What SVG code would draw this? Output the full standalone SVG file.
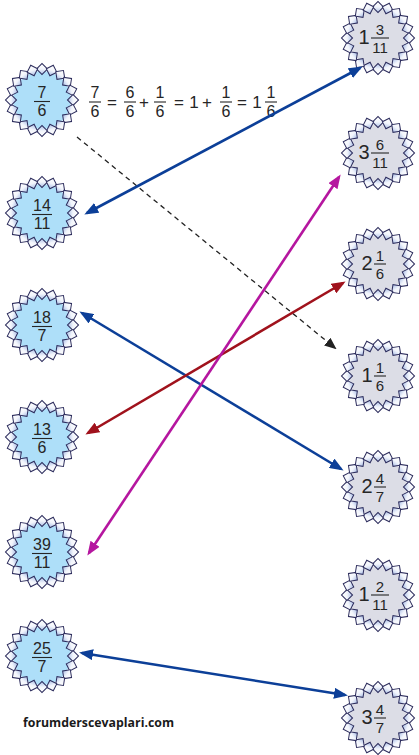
<svg xmlns="http://www.w3.org/2000/svg" xmlns:xlink="http://www.w3.org/1999/xlink" width="419" height="755" viewBox="0 0 419 755">
<style>
text{font-family:"Liberation Sans",Arial,sans-serif;fill:#262626;text-anchor:middle}
.f{font-size:16px}
.fr{font-size:15px}
.w{font-size:20px}
.op{font-size:17px}
.bar{stroke:#262626;stroke-width:1.1}
.lb{fill:#aedff9}
.rb{fill:#dcdde6}
.tooth{fill:url(#tg);stroke:#2c2c5c;stroke-width:1}
.c{fill:none;stroke-width:2.6}
.blue{stroke:#0c3f98}
.mag{stroke:#b5169f}
.red{stroke:#a0121c}
.dash{fill:none;stroke:#222;stroke-width:1.3;stroke-dasharray:5 4}
.wm{font-family:"Open Sans","DejaVu Sans",sans-serif;font-weight:bold;font-size:12.5px;fill:#1a1a1a;text-anchor:start}
</style>
<defs>
<linearGradient id="tg" x1="0" y1="0" x2="1" y2="1">
<stop offset="0" stop-color="#ffffff"/>
<stop offset="0.5" stop-color="#f2f5fc"/>
<stop offset="1" stop-color="#a9bde6"/>
</linearGradient>
<g id="teeth">
<rect class="tooth" x="-3.9" y="-3.9" width="7.8" height="7.8" transform="rotate(0) translate(0,-31) rotate(45)"/>
<rect class="tooth" x="-3.9" y="-3.9" width="7.8" height="7.8" transform="rotate(18) translate(0,-31) rotate(45)"/>
<rect class="tooth" x="-3.9" y="-3.9" width="7.8" height="7.8" transform="rotate(36) translate(0,-31) rotate(45)"/>
<rect class="tooth" x="-3.9" y="-3.9" width="7.8" height="7.8" transform="rotate(54) translate(0,-31) rotate(45)"/>
<rect class="tooth" x="-3.9" y="-3.9" width="7.8" height="7.8" transform="rotate(72) translate(0,-31) rotate(45)"/>
<rect class="tooth" x="-3.9" y="-3.9" width="7.8" height="7.8" transform="rotate(90) translate(0,-31) rotate(45)"/>
<rect class="tooth" x="-3.9" y="-3.9" width="7.8" height="7.8" transform="rotate(108) translate(0,-31) rotate(45)"/>
<rect class="tooth" x="-3.9" y="-3.9" width="7.8" height="7.8" transform="rotate(126) translate(0,-31) rotate(45)"/>
<rect class="tooth" x="-3.9" y="-3.9" width="7.8" height="7.8" transform="rotate(144) translate(0,-31) rotate(45)"/>
<rect class="tooth" x="-3.9" y="-3.9" width="7.8" height="7.8" transform="rotate(162) translate(0,-31) rotate(45)"/>
<rect class="tooth" x="-3.9" y="-3.9" width="7.8" height="7.8" transform="rotate(180) translate(0,-31) rotate(45)"/>
<rect class="tooth" x="-3.9" y="-3.9" width="7.8" height="7.8" transform="rotate(198) translate(0,-31) rotate(45)"/>
<rect class="tooth" x="-3.9" y="-3.9" width="7.8" height="7.8" transform="rotate(216) translate(0,-31) rotate(45)"/>
<rect class="tooth" x="-3.9" y="-3.9" width="7.8" height="7.8" transform="rotate(234) translate(0,-31) rotate(45)"/>
<rect class="tooth" x="-3.9" y="-3.9" width="7.8" height="7.8" transform="rotate(252) translate(0,-31) rotate(45)"/>
<rect class="tooth" x="-3.9" y="-3.9" width="7.8" height="7.8" transform="rotate(270) translate(0,-31) rotate(45)"/>
<rect class="tooth" x="-3.9" y="-3.9" width="7.8" height="7.8" transform="rotate(288) translate(0,-31) rotate(45)"/>
<rect class="tooth" x="-3.9" y="-3.9" width="7.8" height="7.8" transform="rotate(306) translate(0,-31) rotate(45)"/>
<rect class="tooth" x="-3.9" y="-3.9" width="7.8" height="7.8" transform="rotate(324) translate(0,-31) rotate(45)"/>
<rect class="tooth" x="-3.9" y="-3.9" width="7.8" height="7.8" transform="rotate(342) translate(0,-31) rotate(45)"/>
</g>
<marker id="aB" markerUnits="userSpaceOnUse" markerWidth="14" markerHeight="11" refX="11" refY="5.5" orient="auto-start-reverse"><path d="M0,0 L14,5.5 L0,11 Z" fill="#0c3f98"/></marker>
<marker id="aM" markerUnits="userSpaceOnUse" markerWidth="14" markerHeight="11" refX="11" refY="5.5" orient="auto-start-reverse"><path d="M0,0 L14,5.5 L0,11 Z" fill="#b5169f"/></marker>
<marker id="aR" markerUnits="userSpaceOnUse" markerWidth="14" markerHeight="11" refX="11" refY="5.5" orient="auto-start-reverse"><path d="M0,0 L14,5.5 L0,11 Z" fill="#a0121c"/></marker>
<marker id="aK" markerUnits="userSpaceOnUse" markerWidth="12" markerHeight="10" refX="10" refY="5" orient="auto"><path d="M0,0 L12,5 L0,10 Z" fill="#222"/></marker>
</defs>
<rect width="419" height="755" fill="#ffffff"/>

<!-- left nodes -->
<g id="n-7-6" transform="translate(42,100)"><circle class="lb" r="29"/><use xlink:href="#teeth"/>
<text class="f" x="0" y="-2">7</text><line class="bar" x1="-8" y1="1.5" x2="8" y2="1.5"/><text class="f" x="0" y="16">6</text></g>
<g id="n-14-11" transform="translate(42,213)"><circle class="lb" r="29"/><use xlink:href="#teeth"/>
<text class="f" x="0" y="-2">14</text><line class="bar" x1="-10" y1="1.5" x2="10" y2="1.5"/><text class="f" x="0" y="16">11</text></g>
<g id="n-18-7" transform="translate(42,325)"><circle class="lb" r="29"/><use xlink:href="#teeth"/>
<text class="f" x="0" y="-2">18</text><line class="bar" x1="-10" y1="1.5" x2="10" y2="1.5"/><text class="f" x="0" y="16">7</text></g>
<g id="n-13-6" transform="translate(42,437)"><circle class="lb" r="29"/><use xlink:href="#teeth"/>
<text class="f" x="0" y="-2">13</text><line class="bar" x1="-10" y1="1.5" x2="10" y2="1.5"/><text class="f" x="0" y="16">6</text></g>
<g id="n-39-11" transform="translate(42,552)"><circle class="lb" r="29"/><use xlink:href="#teeth"/>
<text class="f" x="0" y="-2">39</text><line class="bar" x1="-10" y1="1.5" x2="10" y2="1.5"/><text class="f" x="0" y="16">11</text></g>
<g id="n-25-7" transform="translate(42,656)"><circle class="lb" r="29"/><use xlink:href="#teeth"/>
<text class="f" x="0" y="-2">25</text><line class="bar" x1="-10" y1="1.5" x2="10" y2="1.5"/><text class="f" x="0" y="16">7</text></g>

<!-- right nodes -->
<g id="n-1-3-11" transform="translate(378,38)"><circle class="rb" r="29"/><use xlink:href="#teeth"/>
<text class="w" x="-14" y="6">1</text><text class="fr" x="2" y="-3">3</text><line class="bar" x1="-7" y1="0" x2="11" y2="0"/><text class="fr" x="2" y="14.5">11</text></g>
<g id="n-3-6-11" transform="translate(378,153)"><circle class="rb" r="29"/><use xlink:href="#teeth"/>
<text class="w" x="-14" y="6">3</text><text class="fr" x="2" y="-3">6</text><line class="bar" x1="-7" y1="0" x2="11" y2="0"/><text class="fr" x="2" y="14.5">11</text></g>
<g id="n-2-1-6" transform="translate(378,264)"><circle class="rb" r="29"/><use xlink:href="#teeth"/>
<text class="w" x="-11" y="6">2</text><text class="fr" x="2" y="-3">1</text><line class="bar" x1="-4" y1="0" x2="8" y2="0"/><text class="fr" x="2" y="14.5">6</text></g>
<g id="n-1-1-6" transform="translate(378,376)"><circle class="rb" r="29"/><use xlink:href="#teeth"/>
<text class="w" x="-11" y="6">1</text><text class="fr" x="2" y="-3">1</text><line class="bar" x1="-4" y1="0" x2="8" y2="0"/><text class="fr" x="2" y="14.5">6</text></g>
<g id="n-2-4-7" transform="translate(378,487)"><circle class="rb" r="29"/><use xlink:href="#teeth"/>
<text class="w" x="-11" y="6">2</text><text class="fr" x="2" y="-3">4</text><line class="bar" x1="-4" y1="0" x2="8" y2="0"/><text class="fr" x="2" y="14.5">7</text></g>
<g id="n-1-2-11" transform="translate(378,595)"><circle class="rb" r="29"/><use xlink:href="#teeth"/>
<text class="w" x="-14" y="6">1</text><text class="fr" x="2" y="-3">2</text><line class="bar" x1="-7" y1="0" x2="11" y2="0"/><text class="fr" x="2" y="14.5">11</text></g>
<g id="n-3-4-7" transform="translate(378,718)"><circle class="rb" r="29"/><use xlink:href="#teeth"/>
<text class="w" x="-11" y="6">3</text><text class="fr" x="2" y="-3">4</text><line class="bar" x1="-4" y1="0" x2="8" y2="0"/><text class="fr" x="2" y="14.5">7</text></g>

<!-- equation -->
<g id="equation">
<text class="f" x="95" y="98">7</text><line class="bar" x1="89" y1="102" x2="101" y2="102"/><text class="f" x="95" y="117">6</text>
<text class="op" x="112" y="108">=</text>
<text class="f" x="130" y="98">6</text><line class="bar" x1="124" y1="102" x2="136" y2="102"/><text class="f" x="130" y="117">6</text>
<text class="op" x="144" y="108">+</text>
<text class="f" x="160" y="98">1</text><line class="bar" x1="154" y1="102" x2="166" y2="102"/><text class="f" x="160" y="117">6</text>
<text class="op" x="179" y="108">=</text>
<text class="op" x="194" y="108">1</text>
<text class="op" x="207" y="108">+</text>
<text class="f" x="226" y="98">1</text><line class="bar" x1="220" y1="102" x2="232" y2="102"/><text class="f" x="226" y="117">6</text>
<text class="op" x="242" y="108">=</text>
<text class="op" x="257" y="108">1</text>
<text class="f" x="271" y="98">1</text><line class="bar" x1="265" y1="102" x2="277" y2="102"/><text class="f" x="271" y="117">6</text>
</g>

<!-- connectors -->
<g id="connectors">
<line class="dash" x1="77" y1="137" x2="335" y2="348" marker-end="url(#aK)"/>
<line class="c blue" x1="87" y1="213" x2="360" y2="68" marker-start="url(#aB)" marker-end="url(#aB)"/>
<line class="c blue" x1="82" y1="313" x2="341" y2="469" marker-start="url(#aB)" marker-end="url(#aB)"/>
<line class="c red" x1="88" y1="433" x2="343" y2="283" marker-start="url(#aR)" marker-end="url(#aR)"/>
<line class="c mag" x1="89" y1="553" x2="339" y2="177" marker-start="url(#aM)" marker-end="url(#aM)"/>
<line class="c blue" x1="82" y1="653" x2="345" y2="695" marker-start="url(#aB)" marker-end="url(#aB)"/>
</g>

<text class="wm" x="23" y="727" textLength="151" lengthAdjust="spacingAndGlyphs">forumderscevaplari.com</text>
</svg>
